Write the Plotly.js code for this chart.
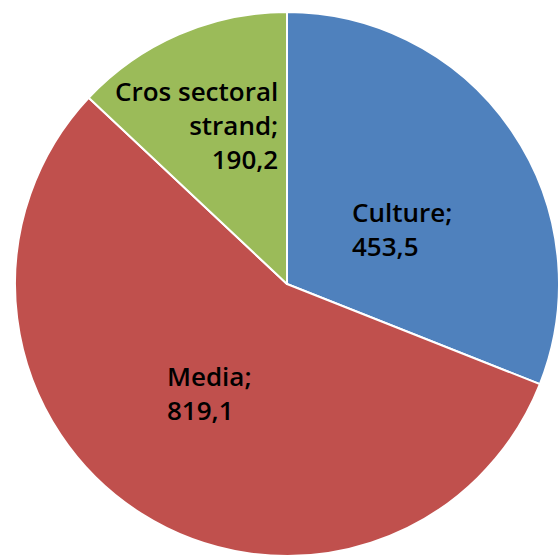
<!DOCTYPE html>
<html>
<head>
<meta charset="utf-8">
<script src="https://cdn.plot.ly/plotly-3.0.1.min.js"></script>
<style>html,body{margin:0;padding:0;background:#fff;}#chart{width:560px;height:560px;}</style>
</head>
<body>
<div id="chart"></div>
<script>
const categories = ["Culture", "Media", "Cros sectoral strand"];
const values = [453.5, 819.1, 190.2];
const labelLines = [["Culture;"], ["Media;"], ["Cros sectoral", "strand;"]];
const colors = ["#4F81BD", "#C0504D", "#9BBB59"];

const M = {l: 15, r: 1, t: 12, b: 4};
const S = 544;
function px(x) { return (x - M.l) / S; }
function py(y) { return 1 - (y - M.t) / S; }

function fmt(v) { return v.toFixed(1).replace('.', ','); }

const labelPos = [
  {x: 350, y: 229, xanchor: 'left', align: 'left'},
  {x: 165, y: 393, xanchor: 'left', align: 'left'},
  {x: 280, y: 125, xanchor: 'right', align: 'right'}
];

const annotations = categories.map((c, i) => ({
  xref: 'paper', yref: 'paper',
  x: px(labelPos[i].x), y: py(labelPos[i].y),
  xanchor: labelPos[i].xanchor, yanchor: 'middle', align: labelPos[i].align,
  showarrow: false,
  text: labelLines[i].concat([fmt(values[i])]).join('<br>'),
  font: {family: 'Open Sans, Noto Sans, sans-serif', size: 26, weight: 600, color: '#000'}
}));

Plotly.newPlot('chart', [{
  type: 'pie',
  labels: categories,
  values: values,
  sort: false,
  direction: 'clockwise',
  rotation: 0,
  textinfo: 'none',
  hoverinfo: 'label+value',
  marker: {colors: colors, line: {color: '#ffffff', width: 2}}
}], {
  width: 560, height: 560,
  margin: M,
  showlegend: false,
  paper_bgcolor: '#fff',
  annotations: annotations
}, {displayModeBar: false, staticPlot: true});
</script>
</body>
</html>
